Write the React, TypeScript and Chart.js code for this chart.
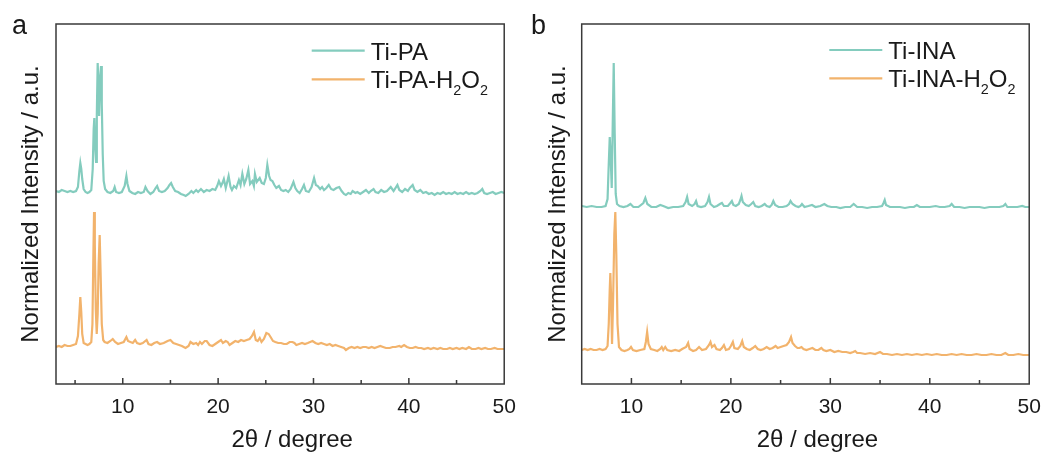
import React, { useEffect, useRef } from "react";
import { Chart, registerables } from "chart.js";

Chart.register(...registerables);

const FONT = '"Liberation Sans", Arial, Helvetica, sans-serif';
const TEAL = "#84CCBE";
const ORANGE = "#F2B36C";
const INK = "#1a1a1a";

// x-axis tick values (2θ, degree)
const majorTicks = [10, 20, 30, 40, 50];
const minorTicks = [5, 15, 25, 35, 45];
const xTitle = "2θ / degree";
const yTitle = "Normalized Intensity / a.u.";

// ---- Panel a: XRD, stacked normalized intensity (a.u.) ----
const tiPA: [number, number][] = [
  [3.0, 193], [3.3, 192], [3.6, 194], [3.9, 193], [4.2, 192], [4.5, 193], [4.8, 192], [5.1, 193],
  [5.3, 197], [5.45, 213], [5.55, 221], [5.65, 215], [5.75, 205], [5.9, 195], [6.1, 192], [6.3, 191],
  [6.5, 192], [6.7, 194], [6.85, 215], [6.95, 255], [7.02, 266], [7.1, 240], [7.2, 222], [7.28, 270],
  [7.37, 321], [7.45, 300], [7.52, 268], [7.62, 305], [7.72, 318], [7.8, 280], [7.9, 230], [8.0, 203],
  [8.15, 195], [8.4, 192], [8.7, 191], [9.0, 193], [9.15, 197], [9.3, 192], [9.6, 191], [9.9, 192],
  [10.2, 198], [10.38, 208], [10.5, 200], [10.7, 193], [11.0, 191], [11.3, 190], [11.6, 192], [11.9, 191],
  [12.2, 192], [12.38, 197], [12.6, 193], [12.9, 190], [13.2, 192], [13.45, 196], [13.6, 198], [13.8, 193],
  [14.1, 192], [14.4, 193], [14.7, 196], [14.9, 199], [15.07, 201], [15.25, 197], [15.5, 193], [15.8, 192],
  [16.1, 190], [16.4, 189], [16.6, 188], [16.9, 190], [17.2, 193], [17.4, 191], [17.7, 194], [17.9, 192],
  [18.2, 195], [18.5, 192], [18.8, 194], [19.1, 193], [19.4, 195], [19.7, 194], [19.9, 198], [20.08, 203],
  [20.3, 198], [20.45, 201], [20.6, 205], [20.8, 196], [21.1, 208], [21.3, 197], [21.45, 194], [21.66, 198],
  [21.9, 196], [22.18, 204], [22.35, 199], [22.54, 210], [22.75, 200], [22.95, 205], [23.17, 214], [23.35, 200],
  [23.59, 203], [23.75, 198], [23.86, 210], [24.05, 202], [24.36, 206], [24.57, 201], [24.8, 200], [25.0, 206],
  [25.16, 219], [25.35, 208], [25.5, 204], [25.69, 203], [25.9, 199], [26.1, 196], [26.38, 198], [26.6, 194],
  [26.85, 193], [27.09, 194], [27.35, 192], [27.6, 195], [27.9, 202], [28.1, 196], [28.3, 193], [28.55, 191],
  [28.8, 195], [29.0, 199], [29.2, 193], [29.5, 192], [29.8, 197], [30.06, 206], [30.25, 199], [30.45, 198],
  [30.7, 195], [30.9, 197], [31.1, 194], [31.35, 196], [31.6, 199], [31.85, 195], [32.1, 194], [32.4, 196],
  [32.7, 197], [32.95, 193], [33.2, 190], [33.4, 189], [33.65, 191], [33.9, 190], [34.1, 193], [34.4, 191],
  [34.6, 192], [34.9, 190], [35.2, 192], [35.5, 194], [35.8, 191], [36.0, 193], [36.3, 195], [36.5, 192],
  [36.8, 191], [37.1, 194], [37.4, 192], [37.7, 193], [38.1, 197], [38.4, 193], [38.8, 199], [39.0, 194],
  [39.3, 192], [39.6, 195], [39.9, 193], [40.1, 196], [40.4, 199], [40.6, 194], [40.9, 192], [41.2, 194],
  [41.5, 191], [41.8, 192], [42.1, 190], [42.4, 191], [42.7, 189], [43.0, 191], [43.3, 190], [43.6, 192],
  [43.9, 190], [44.2, 191], [44.5, 190], [44.8, 192], [45.1, 190], [45.4, 191], [45.7, 190], [46.0, 192],
  [46.3, 190], [46.6, 191], [46.9, 190], [47.2, 191], [47.5, 193], [47.7, 195], [47.9, 191], [48.2, 190],
  [48.5, 191], [48.8, 192], [49.1, 190], [49.4, 191], [49.7, 192], [50.0, 191],
];

const tiPAH2O2: [number, number][] = [
  [3.0, 37], [3.3, 38], [3.6, 37], [3.9, 39], [4.2, 38], [4.5, 38], [4.8, 39], [5.1, 40],
  [5.3, 48], [5.45, 70], [5.55, 87], [5.65, 72], [5.75, 50], [5.9, 41], [6.1, 40], [6.3, 39],
  [6.5, 40], [6.7, 42], [6.82, 60], [6.92, 130], [6.99, 172], [7.07, 140], [7.17, 75], [7.27, 50],
  [7.37, 70], [7.47, 120], [7.58, 149], [7.68, 110], [7.8, 60], [7.95, 44], [8.1, 42], [8.4, 41],
  [8.7, 43], [8.95, 45], [9.2, 42], [9.5, 40], [9.8, 41], [10.1, 42], [10.38, 47], [10.55, 43],
  [10.8, 42], [11.05, 41], [11.3, 44], [11.5, 41], [11.8, 40], [12.1, 41], [12.5, 44], [12.7, 40],
  [13.0, 39], [13.3, 41], [13.6, 42], [13.9, 40], [14.3, 41], [14.7, 43], [15.0, 44], [15.3, 41],
  [15.6, 40], [15.9, 39], [16.2, 38], [16.58, 36], [16.9, 38], [17.1, 42], [17.4, 40], [17.7, 41],
  [17.9, 39], [18.1, 42], [18.3, 40], [18.6, 43], [18.8, 43], [19.1, 39], [19.4, 38], [19.7, 40],
  [20.0, 42], [20.3, 44], [20.5, 41], [20.8, 43], [21.0, 42], [21.2, 39], [21.5, 41], [21.8, 43],
  [22.1, 42], [22.4, 44], [22.7, 43], [23.0, 44], [23.3, 45], [23.55, 48], [23.76, 52], [23.95, 44],
  [24.15, 43], [24.36, 46], [24.55, 42], [24.8, 45], [25.06, 51], [25.3, 50], [25.5, 47], [25.75, 43],
  [26.0, 42], [26.3, 41], [26.6, 41], [26.9, 40], [27.2, 40], [27.5, 42], [27.8, 42], [28.0, 41],
  [28.2, 39], [28.5, 40], [28.8, 41], [29.1, 40], [29.4, 41], [29.65, 42], [29.9, 43], [30.2, 41],
  [30.5, 40], [30.8, 41], [31.1, 40], [31.4, 39], [31.7, 40], [32.0, 38], [32.3, 39], [32.6, 38],
  [32.9, 37], [33.2, 36], [33.4, 34], [33.7, 36], [34.0, 37], [34.3, 36], [34.6, 37], [34.9, 36],
  [35.2, 37], [35.5, 37], [35.8, 36], [36.1, 37], [36.4, 36], [36.7, 37], [37.0, 38], [37.3, 37],
  [37.6, 36], [38.0, 36], [38.3, 37], [38.6, 37], [39.0, 38], [39.2, 37], [39.5, 39], [39.8, 37],
  [40.1, 36], [40.4, 36], [40.7, 37], [41.0, 36], [41.3, 36], [41.6, 35], [42.0, 36], [42.3, 35],
  [42.6, 36], [43.0, 35], [43.3, 36], [43.6, 35], [44.0, 35], [44.3, 36], [44.6, 35], [45.0, 36],
  [45.3, 35], [45.6, 36], [46.0, 35], [46.3, 37], [46.6, 35], [47.0, 35], [47.3, 36], [47.6, 35],
  [48.0, 36], [48.3, 35], [48.6, 35], [49.0, 36], [49.3, 35], [49.6, 35], [50.0, 35],
];

// ---- Panel b ----
const tiINA: [number, number][] = [
  [5.0, 178], [5.5, 177], [6.0, 178], [6.5, 177], [7.0, 177], [7.4, 178], [7.6, 185], [7.72, 220],
  [7.82, 247], [7.92, 225], [8.02, 196], [8.12, 260], [8.22, 321], [8.32, 250], [8.42, 190], [8.55, 180],
  [8.8, 178], [9.2, 177], [9.6, 178], [9.9, 180], [10.2, 177], [10.7, 177], [11.2, 181], [11.4, 186],
  [11.6, 180], [12.0, 177], [12.5, 177], [12.9, 179], [13.2, 178], [13.7, 176], [14.2, 177], [14.7, 177],
  [15.2, 178], [15.45, 182], [15.6, 187], [15.75, 180], [16.1, 178], [16.35, 180], [16.5, 183], [16.65, 178],
  [17.0, 177], [17.4, 178], [17.65, 182], [17.8, 187], [17.95, 180], [18.3, 177], [18.6, 178], [18.9, 180],
  [19.1, 181], [19.3, 178], [19.7, 178], [19.95, 181], [20.1, 183], [20.25, 179], [20.5, 178], [20.8, 180],
  [20.95, 184], [21.07, 188], [21.2, 182], [21.5, 179], [21.8, 178], [22.05, 180], [22.25, 182], [22.45, 178],
  [22.8, 177], [23.1, 178], [23.4, 180], [23.6, 178], [23.9, 177], [24.1, 179], [24.27, 183], [24.45, 179],
  [24.8, 177], [25.2, 177], [25.6, 178], [25.85, 180], [26.0, 183], [26.2, 180], [26.5, 178], [26.8, 177],
  [27.0, 178], [27.15, 180], [27.4, 177], [27.8, 178], [28.16, 179], [28.5, 177], [29.0, 178], [29.4, 180],
  [29.7, 178], [30.1, 177], [30.6, 177], [31.0, 176], [31.5, 177], [32.0, 177], [32.35, 180], [32.7, 177],
  [33.2, 177], [33.7, 176], [34.2, 177], [34.7, 177], [35.2, 178], [35.35, 181], [35.47, 184], [35.6, 179],
  [36.0, 177], [36.5, 177], [37.0, 177], [37.5, 176], [38.0, 177], [38.4, 177], [38.7, 179], [39.0, 177],
  [39.5, 177], [40.0, 177], [40.6, 178], [41.0, 177], [41.5, 177], [42.0, 178], [42.2, 180], [42.45, 177],
  [43.0, 177], [43.5, 176], [44.0, 177], [44.5, 177], [45.0, 177], [45.5, 176], [46.0, 177], [46.5, 177],
  [47.0, 177], [47.4, 178], [47.6, 180], [47.8, 177], [48.3, 177], [48.8, 177], [49.3, 178], [49.6, 177],
  [50.0, 177],
];

const tiINAH2O2: [number, number][] = [
  [5.0, 34], [5.3, 35], [5.6, 34], [5.9, 35], [6.2, 34], [6.5, 34], [6.8, 35], [7.1, 34],
  [7.4, 35], [7.6, 38], [7.72, 60], [7.82, 95], [7.88, 111], [7.95, 90], [8.05, 40], [8.15, 80],
  [8.28, 150], [8.38, 172], [8.48, 130], [8.6, 60], [8.75, 37], [9.0, 34], [9.3, 33], [9.6, 34],
  [9.8, 35], [9.96, 37], [10.15, 34], [10.5, 33], [10.9, 34], [11.3, 35], [11.45, 42], [11.58, 52],
  [11.72, 40], [11.95, 35], [12.3, 34], [12.6, 33], [12.9, 35], [13.05, 37], [13.2, 34], [13.4, 37],
  [13.6, 34], [14.0, 33], [14.4, 34], [14.8, 33], [15.1, 35], [15.5, 37], [15.7, 41], [15.85, 35],
  [16.2, 33], [16.5, 34], [16.8, 37], [17.1, 34], [17.5, 35], [17.8, 39], [17.95, 42], [18.1, 37],
  [18.35, 39], [18.55, 35], [18.9, 34], [19.1, 36], [19.3, 39], [19.5, 34], [19.8, 35], [20.0, 38],
  [20.2, 42], [20.35, 36], [20.7, 35], [20.95, 38], [21.14, 43], [21.3, 37], [21.6, 35], [21.9, 34],
  [22.2, 36], [22.45, 38], [22.7, 35], [23.0, 34], [23.3, 35], [23.6, 37], [23.9, 35], [24.2, 36],
  [24.5, 38], [24.7, 36], [25.0, 37], [25.3, 38], [25.6, 39], [25.85, 42], [26.05, 47], [26.2, 41],
  [26.45, 38], [26.7, 36], [26.9, 36], [27.1, 37], [27.3, 35], [27.6, 34], [27.9, 35], [28.2, 36],
  [28.5, 34], [28.8, 34], [29.1, 36], [29.3, 34], [29.6, 33], [30.0, 34], [30.4, 32], [30.8, 33],
  [31.2, 32], [31.6, 32], [32.0, 31], [32.3, 32], [32.5, 33], [32.7, 31], [33.0, 31], [33.5, 30],
  [34.0, 31], [34.5, 30], [35.0, 32], [35.3, 30], [35.7, 30], [36.2, 29], [36.7, 30], [37.2, 29],
  [37.7, 30], [38.2, 29], [38.7, 30], [39.2, 29], [39.7, 30], [40.2, 29], [40.7, 30], [41.2, 29],
  [41.7, 29], [42.2, 30], [42.7, 29], [43.2, 30], [43.7, 29], [44.2, 29], [44.7, 30], [45.2, 29],
  [45.7, 29], [46.2, 30], [46.7, 29], [47.2, 29], [47.6, 31], [47.9, 29], [48.4, 29], [48.9, 30],
  [49.4, 29], [50.0, 29],
];

const SUBS = "₀₁₂₃₄₅₆₇₈₉";

function drawRichLabel(ctx: CanvasRenderingContext2D, text: string, x: number, y: number, size: number) {
  let cx = x;
  let run = "";
  const flush = () => {
    if (!run) return;
    ctx.font = `${size}px ${FONT}`;
    ctx.fillText(run, cx, y);
    cx += ctx.measureText(run).width;
    run = "";
  };
  for (const ch of text) {
    const si = SUBS.indexOf(ch);
    if (si >= 0) {
      flush();
      const s = size * 0.6;
      ctx.font = `${s}px ${FONT}`;
      ctx.fillText(String(si), cx, y + size * 0.27);
      cx += ctx.measureText(String(si)).width;
    } else {
      run += ch;
    }
  }
  flush();
}

const frameLegendPlugin = {
  id: "frameLegend",
  afterDraw(chart: any, _args: any, opts: any) {
    const { ctx, chartArea } = chart;
    const { left, right, top, bottom } = chartArea;
    const xs = chart.scales.x;
    ctx.save();
    ctx.strokeStyle = "#3a3a3a";
    ctx.lineWidth = 1.5;
    ctx.strokeRect(left, top, right - left, bottom - top);
    ctx.beginPath();
    for (const v of majorTicks) {
      if (v <= xs.min || v >= xs.max) continue;
      const px = xs.getPixelForValue(v);
      ctx.moveTo(px, bottom);
      ctx.lineTo(px, bottom - 6);
    }
    for (const v of minorTicks) {
      if (v <= xs.min || v >= xs.max) continue;
      const px = xs.getPixelForValue(v);
      ctx.moveTo(px, bottom);
      ctx.lineTo(px, bottom - 4);
    }
    ctx.stroke();

    // x-axis title
    ctx.fillStyle = INK;
    ctx.font = `24px ${FONT}`;
    ctx.textAlign = "center";
    ctx.textBaseline = "alphabetic";
    ctx.fillText(xTitle, (left + right) / 2 + opts.xTitleShift, opts.xTitleBaseline);

    // legend
    ctx.textAlign = "left";
    chart.data.datasets.forEach((ds: any, i: number) => {
      const y = opts.y + i * opts.gap;
      ctx.strokeStyle = ds.borderColor;
      ctx.lineWidth = 2.2;
      ctx.beginPath();
      ctx.moveTo(opts.x, y);
      ctx.lineTo(opts.x + 53, y);
      ctx.stroke();
      ctx.fillStyle = INK;
      drawRichLabel(ctx, ds.label, opts.x + 59, y + 8.8, 24);
    });
    ctx.restore();
  },
};

type PanelProps = {
  width: number;
  left: number;
  xMin: number;
  yTitlePad: { top: number; bottom: number };
  legend: { x: number; y: number; gap: number };
  series: { label: string; color: string; data: [number, number][] }[];
};

function Panel(p: PanelProps) {
  const ref = useRef<HTMLCanvasElement | null>(null);
  useEffect(() => {
    if (!ref.current) return;
    const chart = new Chart(ref.current, {
      type: "line",
      data: {
        datasets: p.series.map((s) => ({
          label: s.label,
          data: s.data as any,
          borderColor: s.color,
          backgroundColor: s.color,
          borderWidth: 2.2,
          pointRadius: 0,
          tension: 0,
          fill: false,
        })),
      },
      options: {
        animation: false,
        responsive: false,
        devicePixelRatio: 1,
        events: [],
        layout: { padding: { left: 0, right: 0, top: 24, bottom: 23.6 } },
        plugins: {
          legend: { display: false },
          tooltip: { enabled: false },
          frameLegend: { ...p.legend, xTitleShift: 12, xTitleBaseline: 446.7 },
        } as any,
        scales: {
          x: {
            type: "linear",
            min: p.xMin,
            max: 50,
            afterBuildTicks: (scale: any) => {
              scale.ticks = majorTicks.map((v) => ({ value: v }));
            },
            grid: { display: false, drawTicks: false },
            border: { display: false },
            ticks: {
              color: INK,
              padding: 11.1,
              font: { family: FONT, size: 21 },
              callback: (v: any) => String(v),
            },
            title: { display: false },
          },
          y: {
            type: "linear",
            min: 0,
            max: 360,
            grid: { display: false, drawTicks: false },
            border: { display: false },
            ticks: { display: false },
            title: {
              display: true,
              text: yTitle,
              color: INK,
              font: { family: FONT, size: 24 },
              padding: p.yTitlePad,
            },
          },
        },
      },
      plugins: [frameLegendPlugin as any],
    });
    return () => chart.destroy();
  }, []);
  return (
    <canvas
      ref={ref}
      width={p.width}
      height={455}
      style={{ position: "absolute", left: p.left, top: 0, width: p.width, height: 455 }}
    />
  );
}

const labelStyle: React.CSSProperties = {
  position: "absolute",
  fontFamily: FONT,
  fontSize: 27,
  lineHeight: "27px",
  color: INK,
};

export default function App() {
  return (
    <div style={{ position: "absolute", left: 0, top: 0, width: 1043, height: 455, background: "#fff", overflow: "hidden" }}>
      <Panel
        width={527}
        left={0}
        xMin={3}
        yTitlePad={{ top: 17.3, bottom: 9.9 }}
        legend={{ x: 311.7, y: 50.7, gap: 28.6 }}
        series={[
          { label: "Ti-PA", color: TEAL, data: tiPA },
          { label: "Ti-PA-H₂O₂", color: ORANGE, data: tiPAH2O2 },
        ]}
      />
      <Panel
        width={531}
        left={521}
        xMin={5}
        yTitlePad={{ top: 23.0, bottom: 8.9 }}
        legend={{ x: 308.3, y: 50, gap: 28.3 }}
        series={[
          { label: "Ti-INA", color: TEAL, data: tiINA },
          { label: "Ti-INA-H₂O₂", color: ORANGE, data: tiINAH2O2 },
        ]}
      />
      <div style={{ ...labelStyle, left: 12, top: 12 }}>a</div>
      <div style={{ ...labelStyle, left: 531, top: 12 }}>b</div>
    </div>
  );
}
